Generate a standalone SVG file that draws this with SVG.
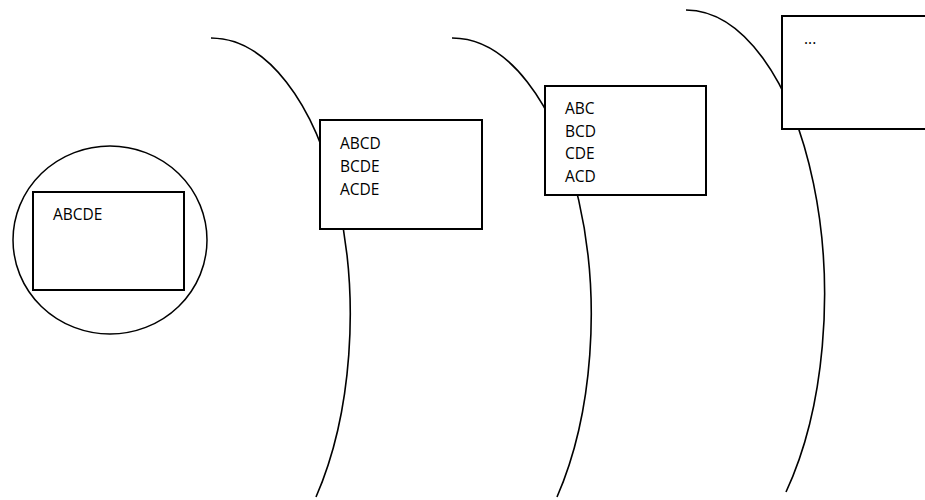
<svg xmlns="http://www.w3.org/2000/svg" width="925" height="500" viewBox="0 0 925 500">
<style>
.arc{fill:none;stroke:#000;stroke-width:1.6}
.box{fill:#fff;stroke:#000;stroke-width:2}
.ring{fill:#fff;stroke:#000;stroke-width:1.5}
text{font-family:"Open Sans","Noto Sans",sans-serif;font-size:15.5px;fill:#000}
</style>
<rect width="925" height="500" fill="#fff"/>
<g id="connectors">
<path class="arc" d="M 211 38 A 139 277 0 0 1 316 497"/>
<path class="arc" d="M 452 38 A 139 277 0 0 1 557 497"/>
<path class="arc" d="M 686 10 A 139 285 0 0 1 786 492"/>
</g>
<g id="node-start">
<ellipse class="ring" cx="110" cy="240" rx="97" ry="94"/>
<rect class="box" x="33" y="192" width="151" height="98"/>
<text x="53" y="220">ABCDE</text>
</g>
<g id="node-level1">
<rect class="box" x="320" y="120" width="162" height="109"/>
<text x="340" y="149">ABCD</text>
<text x="340" y="172">BCDE</text>
<text x="340" y="195">ACDE</text>
</g>
<g id="node-level2">
<rect class="box" x="545" y="86" width="161" height="109"/>
<text x="565" y="114">ABC</text>
<text x="565" y="137">BCD</text>
<text x="565" y="159">CDE</text>
<text x="565" y="182">ACD</text>
</g>
<g id="node-level3">
<rect class="box" x="782" y="16" width="160" height="113"/>
<text x="804" y="44">...</text>
</g>
</svg>
